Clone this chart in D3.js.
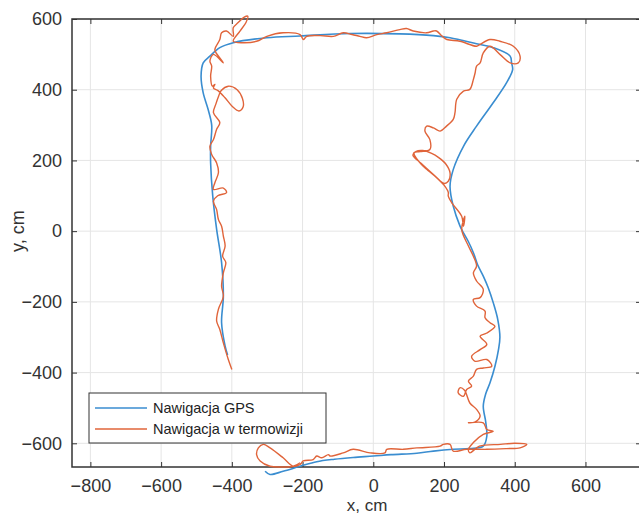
<!DOCTYPE html>
<html>
<head>
<meta charset="utf-8">
<script src="https://cdn.jsdelivr.net/npm/d3@7"></script>
<style>
  body { margin: 0; background: #fff; }
  text { font-family: "Liberation Sans", Arial, sans-serif; }
</style>
</head>
<body>
<div id="chart"></div>
<script>
// tick values
const xTicks = [-800, -600, -400, -200, 0, 200, 400, 600];
const yTicks = [-600, -400, -200, 0, 200, 400, 600];
const seriesNames = ["Nawigacja GPS", "Nawigacja w termowizji"];

// GPS track [x, y] in cm
const gpsTrack = [
  [-412,-350],[-419,-325],[-429,-259],[-424,-184],[-429,-89],[-443,5],[-454,99],[-460,193],
  [-460,240],[-457,300],[-467,344],[-481,391],[-487,438],[-481,476],[-462,495],[-434,519],
  [-396,533],[-301,547],[-207,552],[-66,559],[75,558],[170,553],[217,547],[292,530],
  [339,519],[387,495],[391,476],[394,457],[377,420],[339,363],[292,297],[255,240],
  [226,174],[217,127],[226,71],[245,15],[255,-5],[269,-30],[283,-61],[295,-95],
  [311,-127],[325,-160],[340,-205],[352,-250],[358,-300],[354,-335],[344,-382],[330,-429],
  [318,-460],[311,-495],[318,-540],[321,-580],[311,-608],[273,-615],[226,-617],[170,-622],
  [123,-628],[50,-632],[0,-636],[-57,-640],[-110,-645],[-160,-652],[-207,-665],[-255,-679],
  [-292,-688],[-306,-679]
];

// thermal-vision track [x, y] in cm
const thermalTrack = [
  [-400,-391],[-410,-363],[-424,-316],[-434,-278],[-443,-254],[-438,-221],[-424,-184],[-429,-156],
  [-424,-118],[-417,-89],[-426,-71],[-419,-42],[-424,-14],[-429,14],[-438,33],[-443,61],
  [-452,85],[-440,100],[-415,109],[-424,122],[-452,118],[-448,137],[-438,165],[-443,193],
  [-457,217],[-462,240],[-452,259],[-443,288],[-434,307],[-452,335],[-445,360],[-438,380],
  [-430,398],[-410,410],[-385,400],[-370,375],[-368,352],[-380,340],[-398,352],[-420,378],
  [-440,398],[-452,405],[-448,415],[-455,410],[-460,438],[-457,467],[-462,481],[-452,500],
  [-424,476],[-445,505],[-448,514],[-434,542],[-429,561],[-415,566],[-396,551],[-396,575],
  [-382,590],[-365,605],[-355,608],[-360,590],[-377,566],[-396,537],[-368,533],[-330,537],
  [-301,551],[-255,561],[-207,556],[-198,542],[-188,551],[-150,553],[-113,551],[-85,561],
  [-60,556],[-38,551],[-19,547],[10,556],[38,561],[75,570],[94,573],[113,566],
  [151,561],[170,566],[179,566],[195,551],[208,542],[245,537],[292,523],[302,528],
  [330,542],[358,537],[396,523],[415,495],[410,476],[387,476],[358,500],[330,523],
  [311,504],[302,476],[292,467],[288,448],[283,429],[273,401],[255,396],[236,373],
  [231,335],[226,316],[207,297],[189,283],[170,292],[151,297],[146,283],[160,259],
  [160,231],[132,225],[115,222],[118,212],[135,190],[151,175],[175,155],[200,135],
  [212,141],[217,165],[205,190],[185,208],[165,220],[140,228],[120,225],[112,215],
  [135,192],[170,160],[200,130],[212,110],[212,99],[222,80],[250,42],[255,14],
  [259,42],[250,5],[269,-42],[283,-71],
  [292,-99],[283,-118],[292,-141],[311,-165],[302,-188],[283,-193],[292,-212],[316,-226],
  [316,-245],[330,-259],[344,-269],[321,-288],[302,-297],[321,-320],[302,-335],[278,-354],
  [288,-368],[321,-363],[335,-382],[311,-387],[292,-391],[283,-410],[269,-424],[278,-438],
  [264,-448],[255,-467],[240,-457],[245,-443],[258,-450],[273,-486],[292,-504],[302,-523],
  [287,-540],[269,-542],[311,-542],[321,-561],[339,-566],[311,-575],[283,-598],[269,-617],
  [273,-627],[300,-608],[360,-603],[400,-600],[434,-603],[415,-613],[377,-615],[321,-617],
  [264,-617],[226,-622],[217,-603],[198,-603],[189,-608],[123,-613],[85,-617],[38,-617],
  [33,-627],[-9,-627],[-57,-617],[-85,-627],[-122,-636],[-127,-632],[-146,-641],[-160,-636],
  [-170,-646],[-198,-650],[-207,-660],[-226,-665],[-255,-641],[-292,-613],[-311,-603],[-325,-613],
  [-330,-632],[-320,-650],[-292,-665],[-255,-667],[-226,-665],[-207,-655]
];

const width = 639, height = 514;
const margin = { top: 19, left: 72, right: -2, bottom: 47 };
const axisColor = "#333";
const colors = ["#3a8dd0", "#e0643a"];

const svg = d3.select("#chart")
  .append("svg")
  .attr("width", width)
  .attr("height", height);

let xScale = d3.scaleLinear()
  .domain([-852, 757])
  .range([margin.left, width - margin.right]);

let yScale = d3.scaleLinear()
  .domain([-667, 600])
  .range([height - margin.bottom, margin.top]);

const x0 = xScale.range()[0], x1 = xScale.range()[1];
const y0 = yScale.range()[0], y1 = yScale.range()[1];

// grid
svg.append("g")
  .selectAll("line")
  .data(xTicks)
  .enter().append("line")
  .attr("x1", d => xScale(d)).attr("x2", d => xScale(d))
  .attr("y1", y1).attr("y2", y0)
  .attr("stroke", "#e5e5e5").attr("stroke-width", 1);

svg.append("g")
  .selectAll("line")
  .data(yTicks)
  .enter().append("line")
  .attr("x1", x0).attr("x2", x1)
  .attr("y1", d => yScale(d)).attr("y2", d => yScale(d))
  .attr("stroke", "#e5e5e5").attr("stroke-width", 1);

// axes with inward ticks
const styleAxis = g => {
  g.select(".domain").remove();
  g.selectAll(".tick line").attr("stroke", axisColor).attr("stroke-width", 1);
  g.selectAll(".tick text").attr("fill", axisColor).style("font-size", "18px");
};

svg.append("g")
  .attr("transform", `translate(0,${y0})`)
  .call(d3.axisBottom(xScale).tickValues(xTicks).tickSizeInner(-5).tickSizeOuter(0).tickPadding(12))
  .call(styleAxis);

svg.append("g")
  .attr("transform", `translate(${x0},0)`)
  .call(d3.axisLeft(yScale).tickValues(yTicks).tickSizeInner(-5).tickSizeOuter(0).tickPadding(10))
  .call(styleAxis);

svg.append("g")
  .attr("transform", `translate(0,${y1})`)
  .call(d3.axisTop(xScale).tickValues(xTicks).tickSizeInner(-5).tickSizeOuter(0).tickFormat(""))
  .call(styleAxis);

svg.append("g")
  .attr("transform", `translate(${x1},0)`)
  .call(d3.axisRight(yScale).tickValues(yTicks).tickSizeInner(-5).tickSizeOuter(0).tickFormat(""))
  .call(styleAxis);

// frame
svg.append("rect")
  .attr("x", x0).attr("y", y1)
  .attr("width", x1 - x0).attr("height", y0 - y1)
  .attr("fill", "none")
  .attr("stroke", axisColor)
  .attr("stroke-width", 1.5);

// tracks
const line = d3.line()
  .x(d => xScale(d[0]))
  .y(d => yScale(d[1]))
  .curve(d3.curveCatmullRom.alpha(0.5));

svg.append("path")
  .datum(gpsTrack)
  .attr("d", line)
  .attr("fill", "none")
  .attr("stroke", colors[0])
  .attr("stroke-width", 1.6);

svg.append("path")
  .datum(thermalTrack)
  .attr("d", line)
  .attr("fill", "none")
  .attr("stroke", colors[1])
  .attr("stroke-width", 1.4);

// axis labels
svg.append("text")
  .attr("x", 367)
  .attr("y", 511)
  .attr("text-anchor", "middle")
  .attr("fill", axisColor)
  .style("font-size", "17px")
  .text("x, cm");

svg.append("text")
  .attr("transform", `translate(24,${yScale(0)}) rotate(-90)`)
  .attr("text-anchor", "middle")
  .attr("fill", axisColor)
  .style("font-size", "18px")
  .text("y, cm");

// legend
const legend = svg.append("g").attr("transform", "translate(89,393)");
legend.append("rect")
  .attr("width", 237).attr("height", 50)
  .attr("fill", "#fff")
  .attr("stroke", axisColor)
  .attr("stroke-width", 1);

const items = legend.selectAll(".item")
  .data(seriesNames)
  .enter().append("g")
  .attr("class", "item")
  .attr("transform", (d, i) => `translate(0,${15 + i * 21})`);

items.append("line")
  .attr("x1", 6).attr("x2", 58)
  .attr("stroke", (d, i) => colors[i])
  .attr("stroke-width", 1.6);

items.append("text")
  .attr("x", 64)
  .attr("y", 5)
  .attr("fill", "#222")
  .style("font-size", "14.5px")
  .text(d => d);
</script>
</body>
</html>
